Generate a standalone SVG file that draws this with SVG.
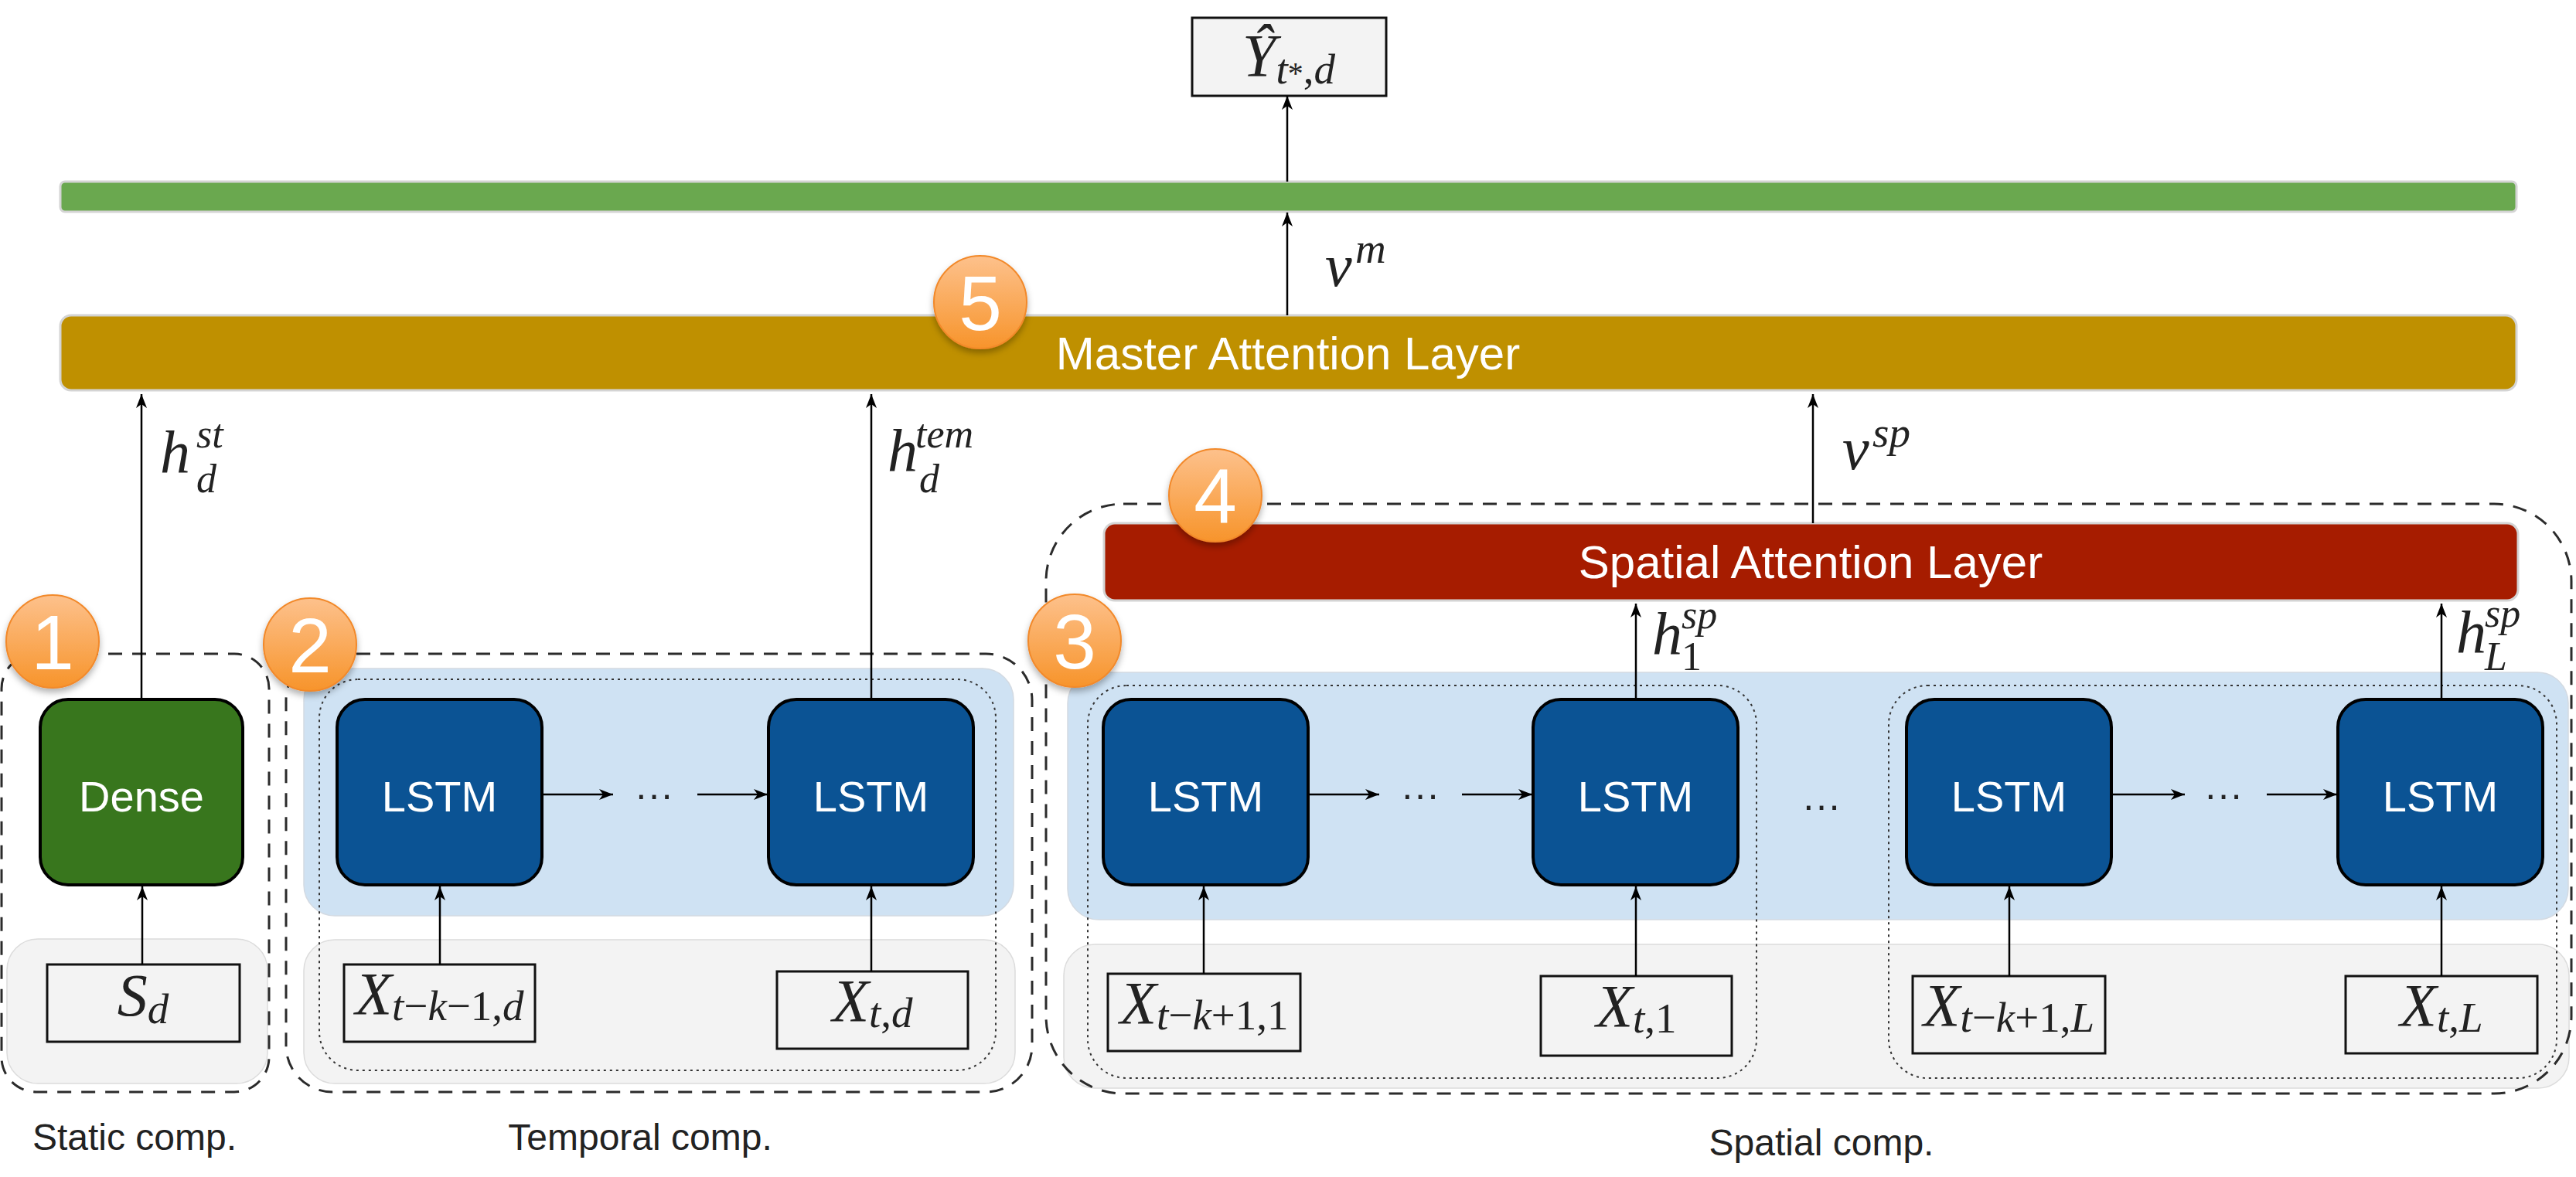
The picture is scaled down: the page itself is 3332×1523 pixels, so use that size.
<svg xmlns="http://www.w3.org/2000/svg" width="3332" height="1523" viewBox="0 0 3332 1523">
  <defs>
    <linearGradient id="badgeFill" x1="0" y1="0" x2="0" y2="1">
      <stop offset="0" stop-color="#fdc18c"/>
      <stop offset="1" stop-color="#f7942b"/>
    </linearGradient>
    <filter id="softShadow" x="-40%" y="-40%" width="180%" height="190%">
      <feDropShadow dx="0" dy="5" stdDeviation="4" flood-color="#000" flood-opacity="0.3"/>
    </filter>
    <marker id="arrow" markerWidth="20" markerHeight="16" refX="18" refY="8" orient="auto" markerUnits="userSpaceOnUse">
      <path d="M0,1 L18,8 L0,15 L5,8 z" fill="#000"/>
    </marker>
  </defs>
  <style>
    .band-blue { fill: #cfe2f3; stroke: #d3dae2; stroke-width: 1.5; }
    .band-gray { fill: #f3f3f3; stroke: #dcdcdc; stroke-width: 1.5; }
    .group { fill: none; stroke: #2b2b2b; stroke-width: 3; stroke-dasharray: 18 13; }
    .seq { fill: none; stroke: #333; stroke-width: 2; stroke-dasharray: 3 5; }
    .lstm { fill: #0b5394; stroke: #000; stroke-width: 4; }
    .dense { fill: #38761d; stroke: #000; stroke-width: 4; }
    .input { fill: #f3f3f3; stroke: #111; stroke-width: 3; }
    .layer { stroke: #d4d4d4; stroke-width: 3; }
    .unit-label { font-family: "Liberation Sans", Arial, sans-serif; font-size: 56px; fill: #fff; text-anchor: middle; }
    .bar-label { font-family: "Liberation Sans", Arial, sans-serif; font-size: 60px; fill: #fff; text-anchor: middle; }
    .caption { font-family: "Liberation Sans", Arial, sans-serif; font-size: 48px; fill: #222; text-anchor: middle; }
    .math { font-family: "Liberation Serif", "Times New Roman", serif; font-style: italic; font-size: 78px; fill: #222; }
    .mid { text-anchor: middle; }
    .sc { font-size: 55px; }
    .ss { font-size: 52px; }
    .up { font-style: normal; }
    .link { stroke: #000; stroke-width: 2.5; fill: none; marker-end: url(#arrow); }
    .badge circle { fill: url(#badgeFill); stroke: #f2892a; stroke-width: 2; }
    .badge text { font-family: "Liberation Sans", Arial, sans-serif; font-size: 100px; fill: #fff; text-anchor: middle; }
    .dots { font-family: "Liberation Sans", Arial, sans-serif; font-size: 50px; fill: #222; text-anchor: middle; }
  </style>

  <rect width="3332" height="1523" fill="#fff"/>

  <!-- background bands -->
  <g id="bands">
    <rect class="band-gray" x="9" y="1215" width="337" height="187" rx="40"/>
    <rect class="band-blue" x="393" y="865" width="918" height="320" rx="40"/>
    <rect class="band-gray" x="393" y="1216" width="920" height="186" rx="40"/>
    <rect class="band-blue" x="1381" y="870" width="1941" height="320" rx="40"/>
    <rect class="band-gray" x="1376" y="1222" width="1947" height="186" rx="40"/>
  </g>

  <!-- component frames -->
  <g id="frames">
    <rect id="static-frame" class="group" x="2" y="846" width="346" height="567" rx="45"/>
    <rect id="temporal-frame" class="group" x="370" y="846" width="965" height="567" rx="60"/>
    <rect id="spatial-frame" class="group" x="1353" y="652" width="1973" height="763" rx="100"/>
    <rect class="seq" x="413" y="879" width="875" height="506" rx="50"/>
    <rect class="seq" x="1407" y="887" width="865" height="508" rx="50"/>
    <rect class="seq" x="2443" y="887" width="864" height="508" rx="50"/>
  </g>

  <!-- layers -->
  <g id="output-layer">
    <rect class="layer" x="78" y="235" width="3177" height="39" rx="6" fill="#6aa84f"/>
  </g>
  <g id="master-attention">
    <rect class="layer" x="78" y="408" width="3177" height="97" rx="14" fill="#bf9000"/>
    <text class="bar-label" x="1666" y="478">Master Attention Layer</text>
  </g>
  <g id="spatial-attention">
    <rect class="layer" x="1428" y="677" width="1829" height="100" rx="14" fill="#a61c00"/>
    <text class="bar-label" x="2342" y="748">Spatial Attention Layer</text>
  </g>

  <!-- output node -->
  <g id="output">
    <rect class="input" x="1542" y="23" width="251" height="101"/>
    <text class="math mid" x="1667" y="98" font-size="76">Ŷ<tspan class="sc" dy="10">t<tspan class="up" font-size="40">*</tspan><tspan class="up">,</tspan>d</tspan></text>
  </g>

  <!-- static component -->
  <g id="dense">
    <rect class="dense" x="52" y="905" width="262" height="240" rx="36"/>
    <text class="unit-label" x="183" y="1050">Dense</text>
  </g>
  <g id="input-static">
    <rect class="input" x="61" y="1248" width="249" height="100"/>
    <text class="math mid" x="185" y="1314">S<tspan class="sc" dy="10">d</tspan></text>
  </g>

  <!-- temporal component -->
  <g id="lstm-t1">
    <rect class="lstm" x="436" y="905" width="265" height="240" rx="36"/>
    <text class="unit-label" x="568.5" y="1050">LSTM</text>
  </g>
  <g id="lstm-t2">
    <rect class="lstm" x="994" y="905" width="265" height="240" rx="36"/>
    <text class="unit-label" x="1126.5" y="1050">LSTM</text>
  </g>
  <g id="input-t1">
    <rect class="input" x="445" y="1248" width="247" height="100"/>
    <text class="math mid" x="568.5" y="1312">X<tspan class="sc" dy="8">t<tspan class="up">−</tspan>k<tspan class="up">−1,</tspan>d</tspan></text>
  </g>
  <g id="input-t2">
    <rect class="input" x="1005" y="1257" width="247" height="100"/>
    <text class="math mid" x="1128.5" y="1321">X<tspan class="sc" dy="8">t<tspan class="up">,</tspan>d</tspan></text>
  </g>

  <!-- spatial component, location 1 -->
  <g id="lstm-s1">
    <rect class="lstm" x="1427" y="905" width="265" height="240" rx="36"/>
    <text class="unit-label" x="1559.5" y="1050">LSTM</text>
  </g>
  <g id="lstm-s2">
    <rect class="lstm" x="1983" y="905" width="265" height="240" rx="36"/>
    <text class="unit-label" x="2115.5" y="1050">LSTM</text>
  </g>
  <g id="input-s1">
    <rect class="input" x="1433" y="1260" width="249" height="100"/>
    <text class="math mid" x="1557.5" y="1324">X<tspan class="sc" dy="8">t<tspan class="up">−</tspan>k<tspan class="up">+1,1</tspan></tspan></text>
  </g>
  <g id="input-s2">
    <rect class="input" x="1993" y="1263" width="247" height="103"/>
    <text class="math mid" x="2116.5" y="1328">X<tspan class="sc" dy="8">t<tspan class="up">,1</tspan></tspan></text>
  </g>

  <!-- spatial component, location L -->
  <g id="lstm-s3">
    <rect class="lstm" x="2466" y="905" width="265" height="240" rx="36"/>
    <text class="unit-label" x="2598.5" y="1050">LSTM</text>
  </g>
  <g id="lstm-s4">
    <rect class="lstm" x="3024" y="905" width="265" height="240" rx="36"/>
    <text class="unit-label" x="3156.5" y="1050">LSTM</text>
  </g>
  <g id="input-s3">
    <rect class="input" x="2474" y="1263" width="249" height="100"/>
    <text class="math mid" x="2598.5" y="1327">X<tspan class="sc" dy="8">t<tspan class="up">−</tspan>k<tspan class="up">+1,</tspan>L</tspan></text>
  </g>
  <g id="input-s4">
    <rect class="input" x="3034" y="1263" width="248" height="100"/>
    <text class="math mid" x="3158" y="1327">X<tspan class="sc" dy="8">t<tspan class="up">,</tspan>L</tspan></text>
  </g>

  <!-- sequence ellipses -->
  <g id="ellipses">
    <text class="dots" x="846" y="1045">···</text>
    <text class="dots" x="1837" y="1045">···</text>
    <text class="dots" x="2876" y="1045">···</text>
    <text class="dots" x="2356" y="1059">···</text>
  </g>

  <!-- connectors -->
  <g id="connectors">
    <line class="link" x1="1665" y1="235" x2="1665" y2="124"/>
    <line class="link" x1="1665" y1="408" x2="1665" y2="275"/>
    <line class="link" x1="183" y1="905" x2="183" y2="510"/>
    <line class="link" x1="1127" y1="905" x2="1127" y2="510"/>
    <line class="link" x1="2345" y1="677" x2="2345" y2="510"/>
    <line class="link" x1="2116" y1="905" x2="2116" y2="781"/>
    <line class="link" x1="3158" y1="905" x2="3158" y2="781"/>

    <line class="link" x1="184" y1="1248" x2="184" y2="1147"/>
    <line class="link" x1="569" y1="1248" x2="569" y2="1147"/>
    <line class="link" x1="1127" y1="1257" x2="1127" y2="1147"/>
    <line class="link" x1="1557" y1="1260" x2="1557" y2="1147"/>
    <line class="link" x1="2116" y1="1263" x2="2116" y2="1147"/>
    <line class="link" x1="2599" y1="1263" x2="2599" y2="1147"/>
    <line class="link" x1="3158" y1="1263" x2="3158" y2="1147"/>

    <line class="link" x1="701" y1="1028" x2="793" y2="1028"/>
    <line class="link" x1="902" y1="1028" x2="993" y2="1028"/>
    <line class="link" x1="1692" y1="1028" x2="1784" y2="1028"/>
    <line class="link" x1="1891" y1="1028" x2="1982" y2="1028"/>
    <line class="link" x1="2731" y1="1028" x2="2826" y2="1028"/>
    <line class="link" x1="2932" y1="1028" x2="3023" y2="1028"/>
  </g>

  <!-- connector labels -->
  <g id="connector-labels">
    <text class="math" x="207" y="612">h<tspan class="ss" x="254" y="579">st</tspan><tspan class="ss" x="254" y="637">d</tspan></text>
    <text class="math" x="1148" y="610">h<tspan class="ss" x="1184" y="579">tem</tspan><tspan class="ss" x="1189" y="637">d</tspan></text>
    <text class="math" x="1714" y="370" font-size="84">ν<tspan class="sc" x="1753" y="340">m</tspan></text>
    <text class="math" x="2383" y="607" font-size="84">ν<tspan class="sc" x="2422" y="578">sp</tspan></text>
    <text class="math" x="2137" y="847">h<tspan class="ss" x="2175" y="813">sp</tspan><tspan class="ss up" x="2175" y="867">1</tspan></text>
    <text class="math" x="3177" y="845">h<tspan class="ss" x="3214" y="811">sp</tspan><tspan class="ss" x="3214" y="867">L</tspan></text>
  </g>

  <!-- captions -->
  <g id="captions">
    <text class="caption" x="174" y="1488">Static comp.</text>
    <text class="caption" x="828" y="1488">Temporal comp.</text>
    <text class="caption" x="2356" y="1495">Spatial comp.</text>
  </g>

  <!-- numbered badges -->
  <g id="badge-1" class="badge" filter="url(#softShadow)">
    <circle cx="68" cy="830" r="60"/>
    <text x="68" y="866">1</text>
  </g>
  <g id="badge-2" class="badge" filter="url(#softShadow)">
    <circle cx="401" cy="834" r="60"/>
    <text x="401" y="870">2</text>
  </g>
  <g id="badge-3" class="badge" filter="url(#softShadow)">
    <circle cx="1390" cy="829" r="60"/>
    <text x="1390" y="865">3</text>
  </g>
  <g id="badge-4" class="badge" filter="url(#softShadow)">
    <circle cx="1572" cy="641" r="60"/>
    <text x="1572" y="677">4</text>
  </g>
  <g id="badge-5" class="badge" filter="url(#softShadow)">
    <circle cx="1268" cy="391" r="60"/>
    <text x="1268" y="427">5</text>
  </g>
</svg>
